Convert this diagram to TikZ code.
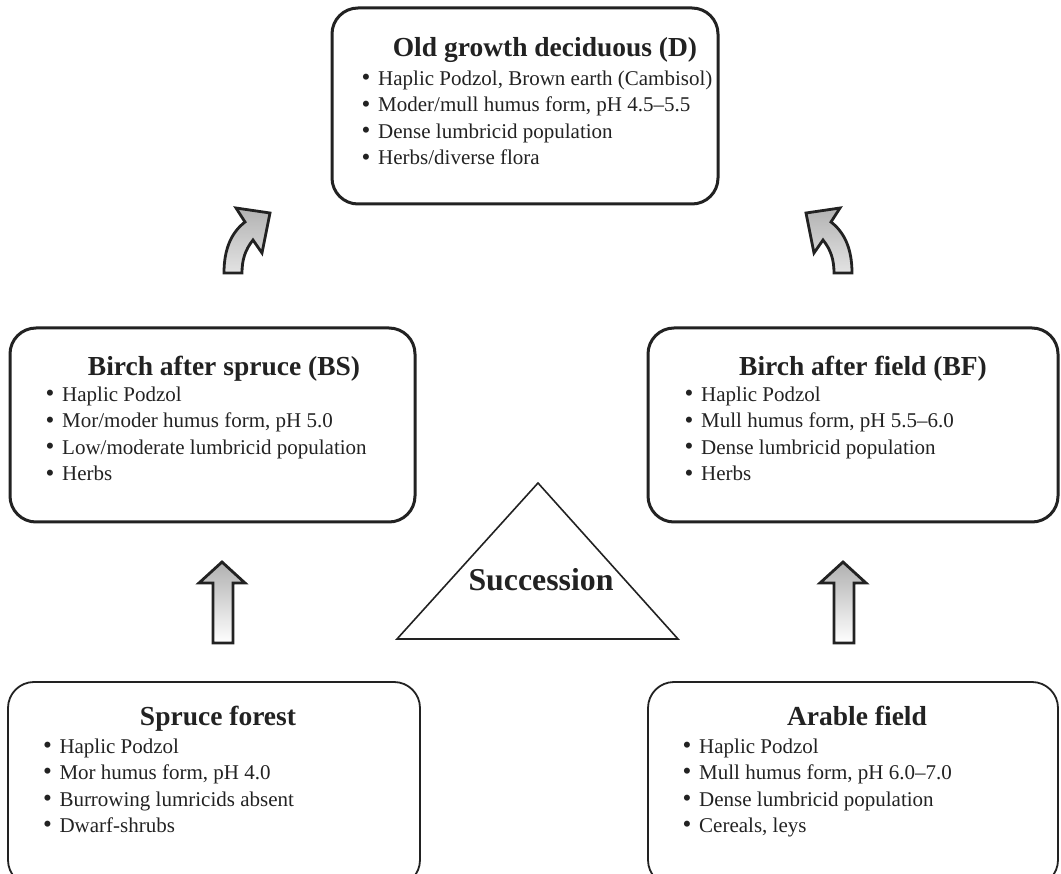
\documentclass[tikz,border=0pt]{standalone}
\usepackage{fontspec}
\setmainfont{Liberation Serif}
\definecolor{ink}{HTML}{222222}
\newcommand\bl{\makebox[16.5pt][l]{\raisebox{-0.3pt}{\scalebox{1.2}{•}}}}
\begin{document}
\begin{tikzpicture}[x=1pt,y=-1pt,
  box/.style={draw=ink,line width=3pt,rounded corners=26pt,inner sep=0pt},
  lbox/.style={draw=ink,line width=1.8pt,rounded corners=26pt,inner sep=0pt},
  ttl/.style={font=\fontsize{27.5}{33}\selectfont\bfseries,text=ink,inner sep=0pt,anchor=base},
  lst/.style={font=\fontsize{21}{26.5}\selectfont,text=ink,inner sep=0pt,align=left,anchor=base west},
  blk/.style={draw=ink,line width=2.8pt,line join=miter},
  straightarr/.style={blk,top color=gray!62,middle color=gray!12,bottom color=white},
  curvedarr/.style={blk,top color=gray!60,bottom color=gray!22},
]
\useasboundingbox (0,0) rectangle (1061,874);
\clip (0,0) rectangle (1061,874);

% boxes
\node[box,minimum width=386pt,minimum height=196pt] (D) at (525,106) {};
\node[box,minimum width=405pt,minimum height=194pt] (BS) at (212.5,425) {};
\node[box,minimum width=410pt,minimum height=194pt] (BF) at (853,425) {};
\node[lbox,minimum width=412pt,minimum height=204pt] (SF) at (214,784) {};
\node[lbox,minimum width=410pt,minimum height=204pt] (AF) at (853,784) {};

% titles
\node[ttl] (Dt) at (545,57) {Old growth deciduous (D)};
\node[ttl] (BSt) at (224,376) {Birch after spruce (BS)};
\node[ttl] (BFt) at (863,376) {Birch after field (BF)};
\node[ttl] (SFt) at (218,725) {Spruce forest};
\node[ttl] (AFt) at (857,725) {Arable field};

% lists (base anchor = baseline of the last line)
\node[lst] (Dl) at (361.5,165) {\bl Haplic Podzol, Brown earth (Cambisol)\\
  \bl Moder/mull humus form, pH 4.5--5.5\\
  \bl Dense lumbricid population\\
  \bl Herbs/diverse flora};
\node[lst] (BSl) at (45.5,481) {\bl Haplic Podzol\\
  \bl Mor/moder humus form, pH 5.0\\
  \bl Low/moderate lumbricid population\\
  \bl Herbs};
\node[lst] (BFl) at (684.5,481) {\bl Haplic Podzol\\
  \bl Mull humus form, pH 5.5--6.0\\
  \bl Dense lumbricid population\\
  \bl Herbs};
\node[lst] (SFl) at (42.8,832.5) {\bl Haplic Podzol\\
  \bl Mor humus form, pH 4.0\\
  \bl Burrowing lumricids absent\\
  \bl Dwarf-shrubs};
\node[lst] (AFl) at (682.5,832.5) {\bl Haplic Podzol\\
  \bl Mull humus form, pH 6.0--7.0\\
  \bl Dense lumbricid population\\
  \bl Cereals, leys};

% succession triangle
\coordinate (ta) at (538,483);
\coordinate (tl) at (397,639);
\coordinate (tr) at (678,639);
\draw[ink,line width=1.6pt,line join=miter] (ta) -- (tl) -- (tr) -- cycle;
\node[font=\fontsize{31.8}{36}\selectfont\bfseries,text=ink,anchor=base,inner sep=0pt] (succ) at (541,590) {Succession};

% straight block arrows
\draw[straightarr] (222,562) -- (245,583) -- (233,583) -- (233,643) -- (213,643) -- (213,583) -- (199,583) -- cycle;
\draw[straightarr] (843,562) -- (866,583) -- (854,583) -- (854,643) -- (834,643) -- (834,583) -- (820,583) -- cycle;

% curved block arrows
\draw[curvedarr] (224,273) .. controls (224,248) and (232,232) .. (245,222) -- (236,208) -- (270,213) -- (262,253) -- (253,240) .. controls (245,250) and (242,260) .. (242,273) -- cycle;
\draw[curvedarr] (852,273) .. controls (852,248) and (844,232) .. (831,222) -- (840,208) -- (806,213) -- (814,253) -- (823,240) .. controls (831,250) and (834,260) .. (834,273) -- cycle;
\end{tikzpicture}
\end{document}
